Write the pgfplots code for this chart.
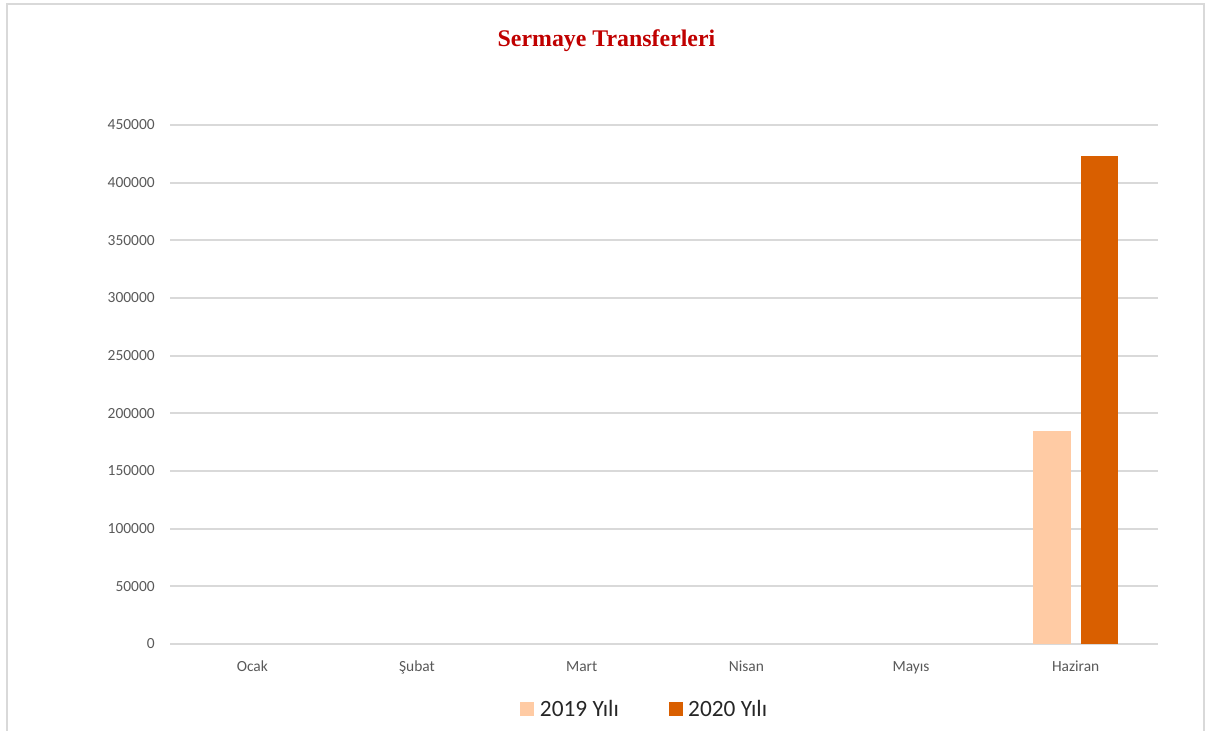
\documentclass[border=0pt]{standalone}
\usepackage{pgfplots}
\pgfplotsset{compat=1.18}
\usepackage{fontspec}
\setmainfont{Carlito}
\newfontfamily\titlefont{Liberation Serif}
\definecolor{gridgray}{HTML}{D9D9D9}
\definecolor{ticktext}{HTML}{595959}
\definecolor{legtext}{HTML}{262626}
\definecolor{c2019}{HTML}{FFCBA4}
\definecolor{c2020}{HTML}{D95F00}
\definecolor{titlered}{HTML}{C00000}
\begin{document}
\begin{tikzpicture}
\path[use as bounding box] (0,0) rectangle (904.5pt,548.25pt);
\draw[gridgray, line width=1.5pt] (5.25pt,0) -- (5.25pt,545.25pt) -- (903pt,545.25pt) -- (903pt,0);
\begin{axis}[
  at={(127.5pt,65.25pt)}, anchor=south west,
  scale only axis, width=741pt, height=389.25pt,
  xmin=-0.5, xmax=5.5, ymin=0, ymax=450000,
  xtick={0,...,5}, xticklabels={Ocak,Şubat,Mart,Nisan,Mayıs,Haziran},
  ytick={0,50000,...,450000},
  scaled y ticks=false,
  /pgf/number format/fixed, /pgf/number format/precision=0,
  /pgf/number format/1000 sep={},
  /pgf/number format/assume math mode=true,
  axis line style={draw=none},
  major tick length=0pt,
  ymajorgrids, grid style={gridgray, line width=1.3pt},
  tick label style={font=\fontsize{11.6}{13}\selectfont, text=ticktext},
  yticklabel style={anchor=east, inner sep=0pt, xshift=-11.25pt},
  xticklabel style={anchor=base, inner sep=0pt, yshift=-21pt},
  title={Sermaye Transferleri},
  title style={at={(0.4418,1.1349)}, anchor=base, inner sep=0pt,
    font=\titlefont\bfseries\fontsize{17.9}{20}\selectfont, text=titlered},
  legend columns=2,
  legend style={at={(0.4808,-0.1252)}, anchor=center, draw=none, fill=none,
    font=\fontsize{17.5}{20}\selectfont, text=legtext,
    /tikz/every odd column/.append style={column sep=2.25pt},
    /tikz/every even column/.append style={column sep=35.25pt}},
  legend image code/.code={\fill[#1] (0pt,-5.25pt) rectangle (10.5pt,5.25pt);},
]
\addplot[ybar, bar width=28.1pt, bar shift=-17.6pt, fill=c2019, draw=none]
  coordinates {(5,184800)};
\addlegendentry{2019 Yılı}
\addplot[ybar, bar width=28.1pt, bar shift=18pt, fill=c2020, draw=none]
  coordinates {(5,423000)};
\addlegendentry{2020 Yılı}
\end{axis}
\end{tikzpicture}
\end{document}
